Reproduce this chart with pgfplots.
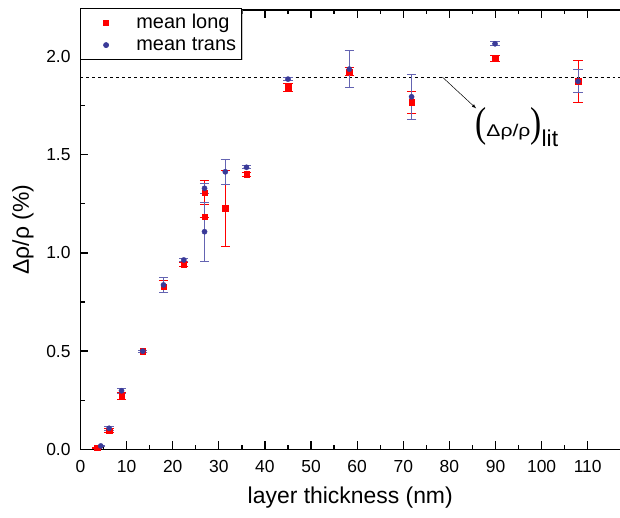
\documentclass[border=0pt]{standalone}
\usepackage{pgfplots}
\pgfplotsset{compat=1.18}
\usepackage{pgfplotstable}
\usepackage{fontspec}
\usetikzlibrary{shadows}
\setmainfont{Liberation Sans}
\newfontfamily\serifparen{Liberation Serif}
\definecolor{cred}{RGB}{255,0,0}
\definecolor{cblue}{RGB}{58,58,152}
\definecolor{cblueerr}{RGB}{100,100,178}

\pgfplotstableread{
x y e
3.6 0.008 0.004
6.2 0.095 0.010
8.9 0.273 0.018
13.5 0.500 0.005
18.0 0.828 0.030
22.4 0.943 0.010
26.9 1.308 0.060
26.9 1.183 0.000
31.4 1.227 0.195
36.0 1.400 0.012
45.0 1.843 0.020
58.3 1.923 0.020
71.8 1.767 0.057
89.9 1.991 0.015
107.9 1.874 0.108
}\longdata

\pgfplotstableread{
x y e
4.4 0.017 0.004
6.2 0.107 0.010
8.9 0.298 0.012
13.5 0.500 0.005
18.0 0.837 0.037
22.4 0.964 0.008
26.9 1.329 0.025
26.9 1.108 0.150
31.4 1.413 0.065
36.0 1.436 0.008
45.0 1.885 0.008
58.3 1.936 0.095
71.8 1.795 0.115
89.9 2.065 0.010
107.9 1.874 0.058
}\transdata

\begin{document}
\fontsize{17.5}{20}\selectfont
\begin{tikzpicture}
\useasboundingbox (-80.5bp,-68.7bp) rectangle (539.5bp,449.3bp);
\begin{axis}[
  at={(0,0)}, anchor=south west,
  scale only axis, width=539.5bp, height=439.3bp,
  xmin=0, xmax=117, ymin=0, ymax=2.237,
  axis x line*=box, axis y line*=left,
  axis line style={line width=1.3bp, black},
  tick align=inside,
  major tick length=8bp, minor tick length=4.5bp,
  every tick/.style={black, line width=1.3bp},
  xtick={0,10,...,110},
  ytick={0,0.5,1.0,1.5,2.0},
  minor x tick num=1, minor y tick num=1,
  /pgf/number format/assume math mode=true,
  ticklabel style={font=\fontsize{17.5}{20}\selectfont},
  xticklabel style={yshift=-5.5bp},
  yticklabel style={xshift=-4bp, /pgf/number format/.cd, fixed, fixed zerofill, precision=1},
  every axis x label/.style={at={(axis description cs:0.5,-0.1110)}, anchor=center},
  every axis y label/.style={at={(axis description cs:-0.1066,0.5)}, rotate=90, anchor=center},
  xlabel={layer thickness (nm)},
  ylabel={Δρ/ρ (\%)},
  label style={font=\fontsize{23}{26}\selectfont},
  legend style={at={(0bp,441.3bp)}, anchor=north west, draw=black, line width=0.6bp,
    fill=white, drop shadow={shadow xshift=1.5bp, shadow yshift=-1.5bp, fill=black!45},
    font=\fontsize{20}{22}\selectfont, inner xsep=5bp, inner ysep=6bp,
    nodes={inner sep=0pt}, row sep=6bp},
  legend cell align=left,
  legend image code/.code={\path (0bp,0bp) (50bp,0bp); \draw[#1] plot coordinates {(20bp,0bp)};},
  clip=false,
]
\addplot[black, dashed, line width=0.6bp, forget plot] coordinates {(0,1.895) (117,1.895)};

\addplot[only marks, mark=square*, mark size=2.7bp, color=cred,
  error bars/.cd, y dir=both, y explicit,
  error bar style={cred, line width=0.8bp},
  error mark options={rotate=90, mark size=4.7bp, cred, line width=0.8bp}]
  table[x=x, y=y, y error=e] {\longdata};
\addlegendentry{mean long}

\addplot[only marks, mark=*, mark size=2.6bp, color=cblue,
  error bars/.cd, y dir=both, y explicit,
  error bar style={cblueerr, line width=0.8bp},
  error mark options={rotate=90, mark size=4.7bp, cblueerr, line width=0.8bp}]
  table[x=x, y=y, y error=e] {\transdata};
\addlegendentry{mean trans}

\draw[-latex, line width=0.5bp] (axis cs:78.5,1.895) -- (axis cs:85.8,1.736);
\node[inner sep=0pt, anchor=base west] at (axis cs:85.56,1.593)
  {\scalebox{0.8}[1]{\serifparen\fontsize{42}{42}\selectfont(}\scalebox{1.25}[1]{\fontsize{17}{17}\selectfont Δρ/ρ}\scalebox{0.8}[1]{\serifparen\fontsize{42}{42}\selectfont)}\raisebox{-10bp}{\fontsize{23}{23}\selectfont lit}};
\end{axis}
\end{tikzpicture}
\end{document}
